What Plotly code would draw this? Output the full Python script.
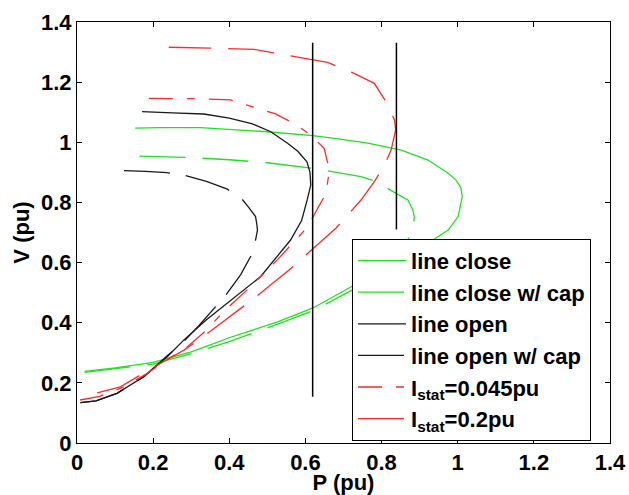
import plotly.graph_objects as go

# ---- data ----
close_P = [0.02, 0.1, 0.2, 0.3, 0.35, 0.4, 0.527, 0.62, 0.724, 0.8, 0.87, 0.948, 0.975, 1.001, 1.012, 1.008, 0.995, 0.975, 0.922, 0.852, 0.764, 0.676, 0.619, 0.5, 0.4, 0.324, 0.22, 0.153]
close_V = [0.238, 0.25, 0.268, 0.303, 0.326, 0.35, 0.403, 0.449, 0.522, 0.575, 0.625, 0.686, 0.708, 0.753, 0.819, 0.85, 0.875, 0.897, 0.941, 0.974, 0.997, 1.013, 1.022, 1.035, 1.044, 1.049, 1.049, 1.047]

closecap_P = [0.02, 0.1, 0.2, 0.3, 0.4, 0.527, 0.62, 0.724, 0.8, 0.85, 0.873, 0.882, 0.886, 0.882, 0.869, 0.838, 0.786, 0.746, 0.623, 0.5, 0.4, 0.3, 0.2, 0.128]
closecap_V = [0.235, 0.246, 0.262, 0.297, 0.337, 0.395, 0.44, 0.509, 0.57, 0.63, 0.686, 0.714, 0.75, 0.775, 0.808, 0.83, 0.869, 0.886, 0.913, 0.932, 0.942, 0.949, 0.953, 0.955]

open_P = [0.009, 0.05, 0.105, 0.176, 0.237, 0.281, 0.34, 0.395, 0.482, 0.561, 0.59, 0.605, 0.614, 0.612, 0.604, 0.58, 0.553, 0.509, 0.461, 0.4, 0.333, 0.25, 0.171]
open_V = [0.134, 0.14, 0.165, 0.221, 0.287, 0.343, 0.41, 0.465, 0.553, 0.675, 0.74, 0.81, 0.858, 0.9, 0.935, 0.97, 0.997, 1.035, 1.061, 1.08, 1.094, 1.098, 1.102]

opencap_P = [0.009, 0.05, 0.105, 0.176, 0.237, 0.281, 0.32, 0.36, 0.391, 0.43, 0.456, 0.469, 0.474, 0.472, 0.469, 0.45, 0.434, 0.395, 0.34, 0.28, 0.236, 0.18, 0.115]
opencap_V = [0.134, 0.14, 0.165, 0.221, 0.29, 0.338, 0.39, 0.448, 0.492, 0.56, 0.62, 0.675, 0.708, 0.73, 0.753, 0.785, 0.81, 0.844, 0.87, 0.891, 0.899, 0.903, 0.906]

stat045_P = [0.008, 0.06, 0.12, 0.18, 0.24, 0.29, 0.34, 0.377, 0.413, 0.456, 0.526, 0.57, 0.606, 0.632, 0.654, 0.663, 0.649, 0.614, 0.57, 0.52, 0.465, 0.403, 0.3, 0.184]
stat045_V = [0.143, 0.155, 0.185, 0.228, 0.28, 0.32, 0.375, 0.426, 0.47, 0.52, 0.609, 0.669, 0.719, 0.78, 0.83, 0.908, 0.98, 1.024, 1.063, 1.095, 1.116, 1.141, 1.145, 1.146]

stat02_P = [0.053, 0.114, 0.189, 0.281, 0.334, 0.425, 0.465, 0.557, 0.592, 0.619, 0.68, 0.711, 0.746, 0.781, 0.808, 0.825, 0.837, 0.834, 0.817, 0.781, 0.728, 0.658, 0.614, 0.526, 0.465, 0.35, 0.241]
stat02_V = [0.167, 0.187, 0.243, 0.309, 0.356, 0.442, 0.481, 0.575, 0.614, 0.647, 0.714, 0.758, 0.808, 0.869, 0.925, 0.974, 1.041, 1.074, 1.124, 1.196, 1.229, 1.266, 1.276, 1.296, 1.309, 1.313, 1.316]

vline1_P = [0.619, 0.619]
vline1_V = [0.154, 1.331]
vline2_P = [0.839, 0.839]
vline2_V = [0.71, 1.331]

tick_vals = [0, 0.2, 0.4, 0.6, 0.8, 1.0, 1.2, 1.4]
tick_text = ["0", "0.2", "0.4", "0.6", "0.8", "1", "1.2", "1.4"]

GREEN = "#22e022"
BLACK = "#1a1a1a"
RED = "#ff2a2a"
FONT = "Liberation Sans, Arial, sans-serif"
FS = 22

fig = go.Figure()
fig.add_trace(go.Scatter(x=close_P, y=close_V, mode="lines", name="line close",
                         line=dict(color=GREEN, width=1.3)))
fig.add_trace(go.Scatter(x=closecap_P, y=closecap_V, mode="lines", name="line close w/ cap",
                         line=dict(color=GREEN, width=1.3, dash="46px,17px")))
fig.add_trace(go.Scatter(x=open_P, y=open_V, mode="lines", name="line open",
                         line=dict(color=BLACK, width=1.3)))
fig.add_trace(go.Scatter(x=opencap_P, y=opencap_V, mode="lines", name="line open w/ cap",
                         line=dict(color=BLACK, width=1.3, dash="46px,16px")))
fig.add_trace(go.Scatter(x=stat045_P, y=stat045_V, mode="lines", name="I<sub>stat</sub>=0.045pu",
                         line=dict(color=RED, width=1.3, dash="24px,14px,8px,14px")))
fig.add_trace(go.Scatter(x=stat02_P, y=stat02_V, mode="lines", name="I<sub>stat</sub>=0.2pu",
                         line=dict(color=RED, width=1.3, dash="46px,17px")))
fig.add_trace(go.Scatter(x=vline1_P, y=vline1_V, mode="lines", showlegend=False,
                         line=dict(color="black", width=1.5)))
fig.add_trace(go.Scatter(x=vline2_P, y=vline2_V, mode="lines", showlegend=False,
                         line=dict(color="black", width=1.5)))

axis_common = dict(range=[0, 1.4], tickvals=tick_vals, ticktext=tick_text,
                   ticks="inside", ticklen=5, tickcolor="black", tickwidth=1,
                   showline=True, linecolor="black", linewidth=1, mirror="ticks",
                   showgrid=False, zeroline=False, automargin=False,
                   tickfont=dict(family=FONT, size=FS, color="black", weight="bold"))

fig.update_layout(
    width=629, height=495,
    margin=dict(l=77, r=19, t=22, b=52, autoexpand=False),
    paper_bgcolor="white", plot_bgcolor="white",
    font=dict(family=FONT, size=FS, color="black", weight="bold"),
    xaxis=dict(axis_common, title=dict(text="P (pu)", standoff=4,
                                       font=dict(family=FONT, size=FS, weight="bold"))),
    yaxis=dict(axis_common, title=dict(text="V (pu)", standoff=5,
                                       font=dict(family=FONT, size=FS, weight="bold"))),
    legend=dict(x=0.516, y=0.485, xanchor="left", yanchor="top",
                bgcolor="white", bordercolor="black", borderwidth=1,
                itemwidth=48, tracegroupgap=0,
                font=dict(family=FONT, size=FS, color="black", weight="bold")),
)

fig.write_html("out.html", config={"displayModeBar": False},
               post_script="document.body.style.margin='0';document.body.style.overflow='hidden';")
